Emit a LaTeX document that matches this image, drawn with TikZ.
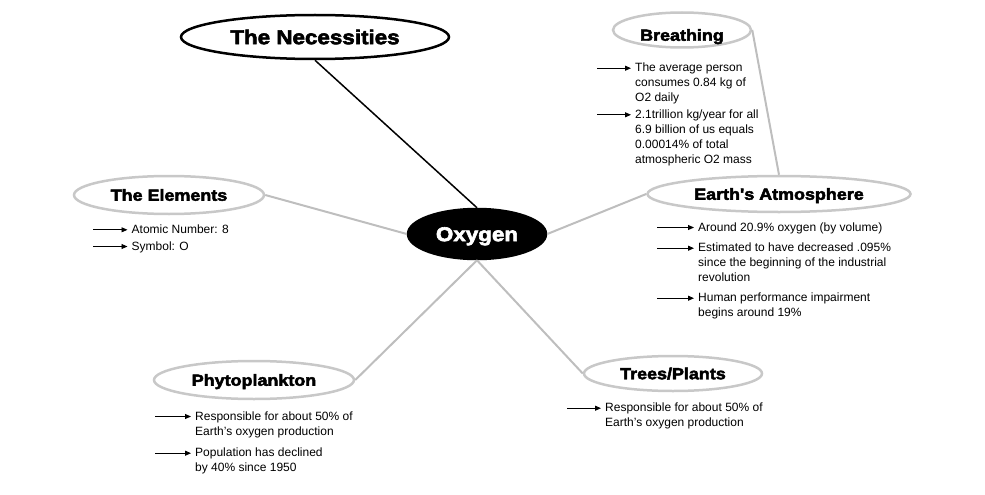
\documentclass[tikz,border=0pt]{standalone}
\usepackage{fontspec}
\setmainfont{Liberation Sans}
\newfontfamily\headfont{Liberation Sans Bold}[FakeStretch=1.12,FakeBold=3]
\usepackage{tikz}
\usetikzlibrary{arrows.meta, shapes.geometric}
\definecolor{ogray}{HTML}{C8C8C8}
\definecolor{olink}{HTML}{BEBEBE}

\begin{document}
\begin{tikzpicture}[x=1pt, y=-1pt,
  bubble/.style={ellipse, draw=ogray, fill=white, line width=2.5pt, inner sep=0pt,
    font=\headfont\fontsize{16}{16}\selectfont, text height=11.5pt, text depth=0pt},
  bigbubble/.style={bubble, font=\headfont\fontsize{20}{20}\selectfont, text height=14.3pt},
  item/.style={anchor=north west, align=left, inner xsep=4pt, inner ysep=0pt,
    font=\fontsize{12}{15}\selectfont},
  bullet/.style={-{Triangle[length=6pt,width=5pt]}, line width=0.9pt},
  link/.style={draw=olink, line width=2pt}]
\useasboundingbox (0,0) rectangle (985,495);
% main bubbles
\node[bigbubble, draw=black, minimum width=268pt, minimum height=44pt] (necess) at (315,37) {The Necessities};
\node[bigbubble, draw=black, fill=black, text=white, minimum width=138pt, minimum height=50pt] (oxy) at (477,234) {Oxygen};
\node[bubble, minimum width=138pt, minimum height=35pt] (breath) at (682,30) {\raisebox{-5pt}{Breathing}};
\node[bubble, minimum width=263pt, minimum height=36pt] (earth) at (779,194) {Earth's Atmosphere};
\node[bubble, minimum width=190pt, minimum height=38pt] (elem) at (169,195) {The Elements};
\node[bubble, minimum width=200pt, minimum height=38pt] (phyto) at (254,380) {Phytoplankton};
\node[bubble, minimum width=178pt, minimum height=35pt] (trees) at (673,373.5) {Trees/Plants};
% links
\draw[line width=1.5pt] (necess.south) -- (oxy.north);
\draw[link] (oxy.west) -- (elem.east);
\draw[link] (oxy.east) -- (earth.west);
\draw[link] (breath.east) -- (earth.north);
\draw[link] (oxy.south) -- (phyto.east);
\draw[link] (oxy.south) -- (trees.west);
% breathing
\node[item] (b1) at (631,63) {The average person\\consumes 0.84 kg of\\O2 daily};
\node[item] (b2) at (631,109.6) {2.1trillion kg/year for all\\6.9 billion of us equals\\0.00014\% of total\\atmospheric O2 mass};
\coordinate (b1s) at (597,68.2);
\coordinate (b2s) at (597,114.8);
\draw[bullet] (b1s) -- (b1s -| b1.west);
\draw[bullet] (b2s) -- (b2s -| b2.west);
% atmosphere
\node[item] (a1) at (694,222.3) {Around 20.9\% oxygen (by volume)};
\node[item] (a2) at (694,243) {Estimated to have decreased .095\%\\since the beginning of the industrial\\revolution};
\node[item] (a3) at (694,293) {Human performance impairment\\begins around 19\%};
\coordinate (a1s) at (657,227.5);
\coordinate (a2s) at (657,248.2);
\coordinate (a3s) at (657,298.2);
\draw[bullet] (a1s) -- (a1s -| a1.west);
\draw[bullet] (a2s) -- (a2s -| a2.west);
\draw[bullet] (a3s) -- (a3s -| a3.west);
% elements
\node[item] (e1) at (127.5,224.6) {Atomic Number: 8};
\node[item] (e2) at (127.5,241.3) {Symbol: O};
\coordinate (e1s) at (93,229.8);
\coordinate (e2s) at (93,246.5);
\draw[bullet] (e1s) -- (e1s -| e1.west);
\draw[bullet] (e2s) -- (e2s -| e2.west);
% phytoplankton
\node[item] (p1) at (191,411.3) {Responsible for about 50\% of\\Earth’s oxygen production};
\node[item] (p2) at (191,448) {Population has declined\\by 40\% since 1950};
\coordinate (p1s) at (155,416.5);
\coordinate (p2s) at (155,453.2);
\draw[bullet] (p1s) -- (p1s -| p1.west);
\draw[bullet] (p2s) -- (p2s -| p2.west);
% trees
\node[item] (t1) at (601,403) {Responsible for about 50\% of\\Earth’s oxygen production};
\coordinate (t1s) at (567,408.2);
\draw[bullet] (t1s) -- (t1s -| t1.west);
\end{tikzpicture}
\end{document}
